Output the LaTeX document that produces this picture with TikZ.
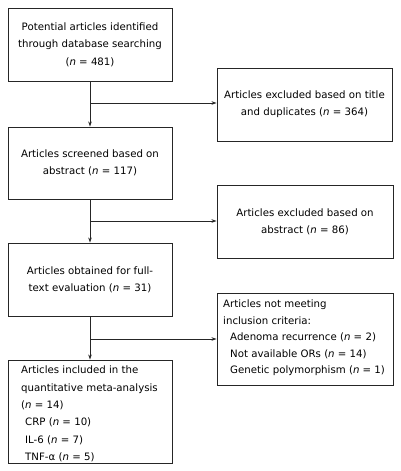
\documentclass[tikz,border=0pt]{standalone}
\usepackage{fontspec}
\setmainfont{DejaVu Sans}
\usetikzlibrary{arrows.meta}
\begin{document}
\begin{tikzpicture}[x=1pt,y=-1pt,
  box/.style={draw=black!85,line width=0.9pt,rectangle,inner sep=0pt,align=center,
    font=\fontsize{10.2}{17.3}\selectfont},
  lbox/.style={box,align=left},
  conn/.style={line width=0.8pt,draw=black!85},
  arr/.style={conn,-{Stealth[length=5pt,width=3.5pt]}}]
\useasboundingbox (0,0) rectangle (400,471);
\node[box,minimum width=164pt,minimum height=73pt] (b1) at (90,44.5)
  {Potential articles identified\\through database searching\\(\textit{n} = 481)};
\node[box,minimum width=175pt,minimum height=73pt] (r1) at (304.5,104.5)
  {Articles excluded based on title\\and duplicates (\textit{n} = 364)};
\node[box,minimum width=164pt,minimum height=72pt] (b2) at (90,163)
  {Articles screened based on\\abstract (\textit{n} = 117)};
\node[box,minimum width=176pt,minimum height=73pt] (r2) at (305,221.5)
  {Articles excluded based on\\abstract (\textit{n} = 86)};
\node[box,minimum width=164pt,minimum height=73pt] (b3) at (90,279.5)
  {Articles obtained for full-\\text evaluation (\textit{n} = 31)};
\node[lbox,minimum width=176pt,minimum height=92pt] (r3) at (305,339) {};
\node[anchor=north west,inner sep=0pt,align=left,font=\fontsize{10.2}{16.5}\selectfont] (r3t) at (223,300)
  {Articles not meeting\\inclusion criteria:\\
   \hspace*{7pt}Adenoma recurrence (\textit{n} = 2)\\
   \hspace*{7pt}Not available ORs (\textit{n} = 14)\\
   \hspace*{7pt}Genetic polymorphism (\textit{n} = 1)};
\node[lbox,minimum width=164pt,minimum height=103pt] (b4) at (90,411.5) {};
\node[anchor=north west,inner sep=0pt,align=left,font=\fontsize{10.2}{17.3}\selectfont] (b4t) at (21,366)
  {Articles included in the\\quantitative meta-analysis\\(\textit{n} = 14)\\
   \hspace*{4pt}CRP (\textit{n} = 10)\\
   \hspace*{4pt}IL-6 (\textit{n} = 7)\\
   \hspace*{4pt}TNF-α (\textit{n} = 5)};
\coordinate (c1) at (90,103);
\coordinate (c2) at (90,221);
\coordinate (c3) at (90,339);
\draw[arr] (b1.south) -- (b2.north);
\draw[arr] (c1) -- (c1 -| r1.west);
\draw[arr] (b2.south) -- (b3.north);
\draw[arr] (c2) -- (c2 -| r2.west);
\draw[arr] (b3.south) -- (b4.north);
\draw[arr] (c3) -- (c3 -| r3.west);
\end{tikzpicture}
\end{document}
